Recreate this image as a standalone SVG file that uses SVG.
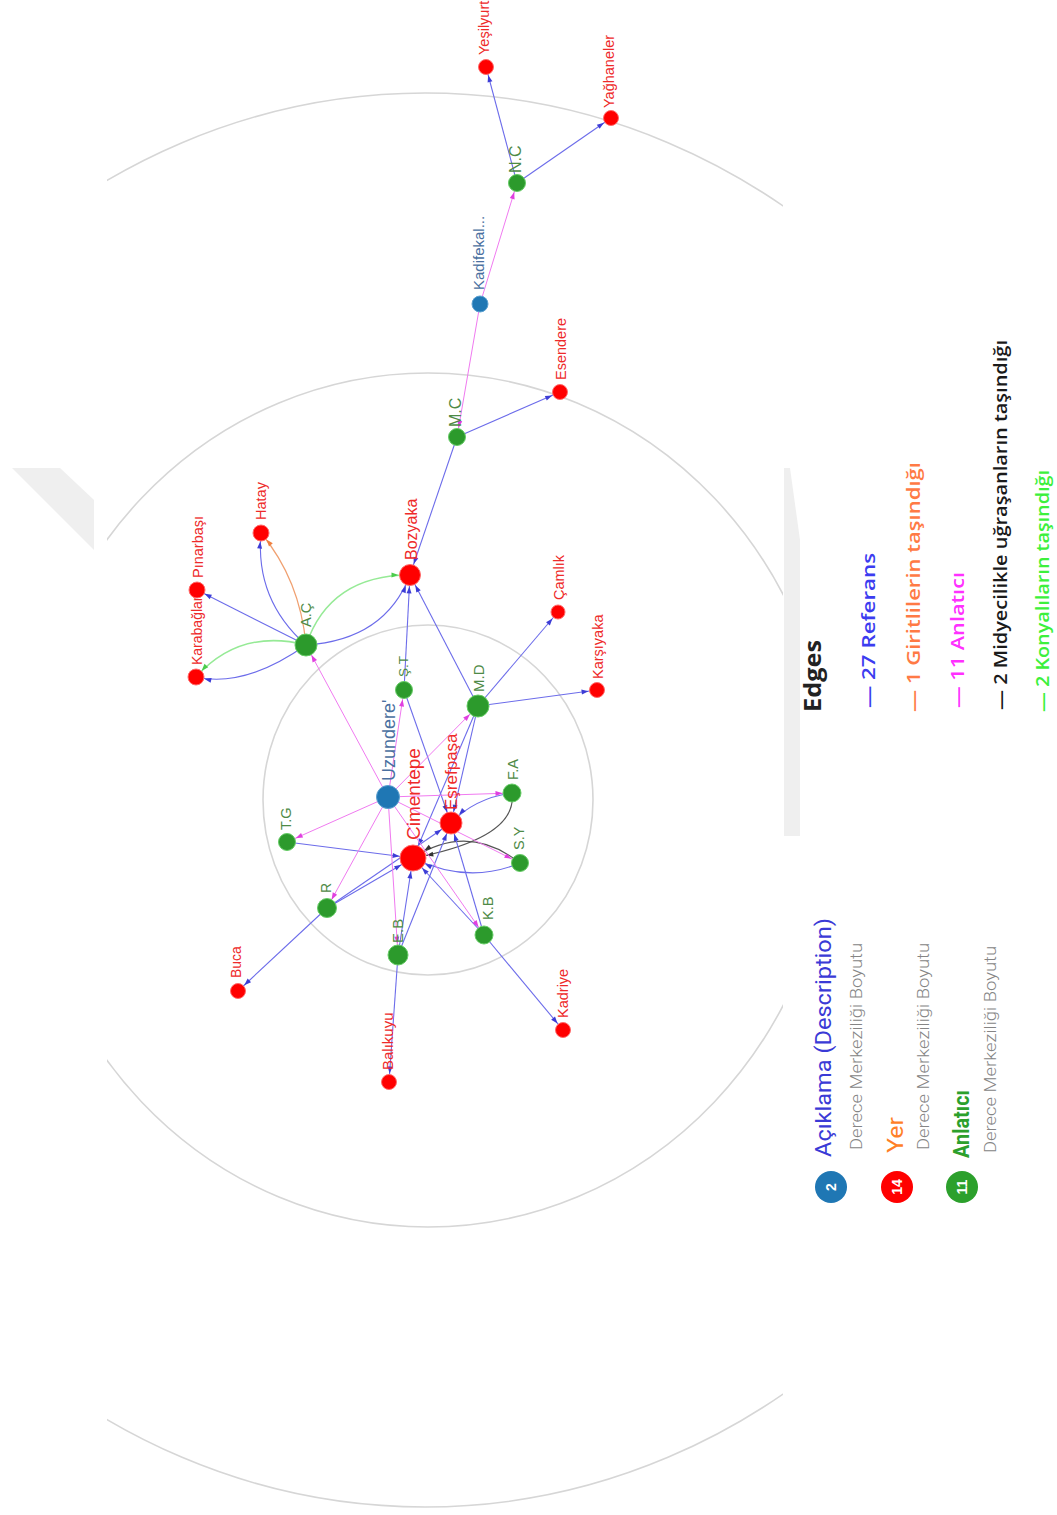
<svg xmlns="http://www.w3.org/2000/svg" width="1057" height="1515" viewBox="0 0 1057 1515">
<style>
.ref{stroke:#6c6cea;stroke-width:1.1;fill:none}
.anl{stroke:#f07af0;stroke-width:1;fill:none}
.mid{stroke:#555;stroke-width:1.2;fill:none}
.kon{stroke:#96ea96;stroke-width:1.5;fill:none}
.gir{stroke:#f0a070;stroke-width:1.2;fill:none}
.ring{fill:none;stroke:#d6d6d6;stroke-width:1.6}
.place circle{fill:#ff0000;stroke:#ff6a6a;stroke-width:1}
.narr circle{fill:#2c9a2c;stroke:#66cc66;stroke-width:1}
.desc circle{fill:#1f77b4;stroke:#5a9fd0;stroke-width:1}
text{font-family:"Liberation Sans",Arial,sans-serif}
.place text{fill:#ee2a2a}
.narr text{fill:#4e8a46}
.desc text{fill:#4a70a0}
.lg{font-family:"Open Sans","Liberation Sans",sans-serif;font-weight:600;font-size:18px}
.nl{font-family:Roboto,"Liberation Sans",sans-serif}
.sub{font-family:Roboto,"Liberation Sans",sans-serif;font-size:16px;fill:#858585;font-weight:300}
.num{font-family:"Liberation Sans",Arial,sans-serif;font-weight:bold;font-size:14px;fill:#fff}
</style>
<defs>
<clipPath id="clip"><rect x="107" y="0" width="676" height="1515"/></clipPath>
<marker id="b8" markerUnits="userSpaceOnUse" viewBox="0 0 7 5" markerWidth="7" markerHeight="5" refX="15.5" refY="2.5" orient="auto" overflow="visible"><path d="M0,0L7,2.5L0,5z" fill="#3d3dd6"/></marker>
<marker id="b11" markerUnits="userSpaceOnUse" viewBox="0 0 7 5" markerWidth="7" markerHeight="5" refX="18.5" refY="2.5" orient="auto" overflow="visible"><path d="M0,0L7,2.5L0,5z" fill="#3d3dd6"/></marker>
<marker id="b13" markerUnits="userSpaceOnUse" viewBox="0 0 7 5" markerWidth="7" markerHeight="5" refX="20.5" refY="2.5" orient="auto" overflow="visible"><path d="M0,0L7,2.5L0,5z" fill="#3d3dd6"/></marker>
<marker id="m9" markerUnits="userSpaceOnUse" viewBox="0 0 7 5" markerWidth="7" markerHeight="5" refX="16.5" refY="2.5" orient="auto" overflow="visible"><path d="M0,0L7,2.5L0,5z" fill="#e040e0"/></marker>
<marker id="m11" markerUnits="userSpaceOnUse" viewBox="0 0 7 5" markerWidth="7" markerHeight="5" refX="18.5" refY="2.5" orient="auto" overflow="visible"><path d="M0,0L7,2.5L0,5z" fill="#e040e0"/></marker>
<marker id="k13" markerUnits="userSpaceOnUse" viewBox="0 0 7 5" markerWidth="7" markerHeight="5" refX="20.5" refY="2.5" orient="auto" overflow="visible"><path d="M0,0L7,2.5L0,5z" fill="#333"/></marker>
<marker id="g11" markerUnits="userSpaceOnUse" viewBox="0 0 7 5" markerWidth="7" markerHeight="5" refX="18.5" refY="2.5" orient="auto" overflow="visible"><path d="M0,0L7,2.5L0,5z" fill="#4ccc4c"/></marker>
<marker id="g8" markerUnits="userSpaceOnUse" viewBox="0 0 7 5" markerWidth="7" markerHeight="5" refX="15.5" refY="2.5" orient="auto" overflow="visible"><path d="M0,0L7,2.5L0,5z" fill="#4ccc4c"/></marker>
<marker id="o8" markerUnits="userSpaceOnUse" viewBox="0 0 7 5" markerWidth="7" markerHeight="5" refX="15.5" refY="2.5" orient="auto" overflow="visible"><path d="M0,0L7,2.5L0,5z" fill="#f08040"/></marker>
</defs>
<rect width="1057" height="1515" fill="#fff"/>
<g id="watermark" fill="#efefef">
<polygon points="12,468 60,468 94,500 94,550"/>
<polygon points="784,468 790,468 800,540 800,836 784,836"/>
</g>
<g id="rings" clip-path="url(#clip)">
<ellipse class="ring" cx="425" cy="800" rx="660" ry="707"/>
<ellipse class="ring" cx="428" cy="800" rx="405" ry="427"/>
<ellipse class="ring" cx="428" cy="800" rx="165" ry="175"/>
</g>
<g id="connectors">
<path class="ref" marker-end="url(#b8)" d="M517,183L486,67"/>
<path class="ref" marker-end="url(#b8)" d="M517,183L611,118"/>
<path class="ref" marker-end="url(#b8)" d="M457,437L560,392"/>
<path class="ref" marker-end="url(#b11)" d="M457,437L410,575"/>
<path class="ref" marker-end="url(#b8)" d="M306,645Q255,600 261,533"/>
<path class="gir" marker-end="url(#o8)" d="M306,645Q300,580 261,533"/>
<path class="ref" marker-end="url(#b8)" d="M306,645L197,590"/>
<path class="ref" marker-end="url(#b8)" d="M306,645Q245,688 196,677"/>
<path class="kon" marker-end="url(#g8)" d="M306,645Q240,628 196,677"/>
<path class="ref" marker-end="url(#b11)" d="M306,645Q385,640 410,575"/>
<path class="kon" marker-end="url(#g11)" d="M306,645Q330,575 410,575"/>
<path class="ref" marker-end="url(#b11)" d="M404,690L410,575"/>
<path class="ref" marker-end="url(#b11)" d="M404,690L451,823"/>
<path class="ref" marker-end="url(#b11)" d="M478,706L410,575"/>
<path class="ref" marker-end="url(#b8)" d="M478,706L558,612"/>
<path class="ref" marker-end="url(#b8)" d="M478,706L597,690"/>
<path class="ref" marker-end="url(#b11)" d="M478,706L451,823"/>
<path class="ref" marker-end="url(#b13)" d="M478,706L413,858"/>
<path class="ref" marker-end="url(#b11)" d="M512,793Q475,798 451,823"/>
<path class="mid" marker-end="url(#k13)" d="M512,793Q518,838 413,858"/>
<path class="mid" marker-end="url(#k13)" d="M520,863Q468,822 413,858"/>
<path class="ref" marker-end="url(#b13)" d="M520,863Q468,885 413,858"/>
<path class="ref" marker-end="url(#b13)" d="M287,842L413,858"/>
<path class="ref" marker-end="url(#b13)" d="M327,908L413,858"/>
<path class="ref" marker-end="url(#b11)" d="M327,908L451,823"/>
<path class="ref" marker-end="url(#b8)" d="M327,908L238,991"/>
<path class="ref" marker-end="url(#b13)" d="M398,955L413,858"/>
<path class="ref" marker-end="url(#b11)" d="M398,955L451,823"/>
<path class="ref" marker-end="url(#b8)" d="M398,955L389,1082"/>
<path class="ref" marker-end="url(#b13)" d="M484,935L413,858"/>
<path class="ref" marker-end="url(#b11)" d="M484,935L451,823"/>
<path class="ref" marker-end="url(#b8)" d="M484,935L563,1030"/>
<path class="anl" marker-end="url(#m9)" d="M480,304L517,183"/>
<path class="anl" marker-end="url(#m9)" d="M480,304L457,437"/>
<path class="anl" marker-end="url(#m11)" d="M388,797L306,645"/>
<path class="anl" marker-end="url(#m9)" d="M388,797L404,690"/>
<path class="anl" marker-end="url(#m11)" d="M388,797L478,706"/>
<path class="anl" marker-end="url(#m9)" d="M388,797L512,793"/>
<path class="anl" marker-end="url(#m9)" d="M388,797L520,863"/>
<path class="anl" marker-end="url(#m9)" d="M388,797L484,935"/>
<path class="anl" marker-end="url(#m11)" d="M388,797L398,955"/>
<path class="anl" marker-end="url(#m9)" d="M388,797L327,908"/>
<path class="anl" marker-end="url(#m9)" d="M388,797L287,842"/>
</g>
<g id="n-uzundere" class="desc"><circle cx="388" cy="797" r="11.5"/><text transform="translate(395,781) rotate(-90)" font-size="18">Uzundere'</text></g>
<g id="n-kadifekale" class="desc"><circle cx="480" cy="304" r="8"/><text transform="translate(484,290) rotate(-90)" font-size="15">Kadifekal...</text></g>
<g id="n-cimentepe" class="place"><circle cx="413" cy="858" r="13"/><text transform="translate(420,840) rotate(-90)" font-size="19">Cimentepe</text></g>
<g id="n-esrefpasa" class="place"><circle cx="451" cy="823" r="11"/><text transform="translate(457,810) rotate(-90)" font-size="17">Eşrefpaşa</text></g>
<g id="n-bozyaka" class="place"><circle cx="410" cy="575" r="10.5"/><text transform="translate(417,560) rotate(-90)" font-size="16">Bozyaka</text></g>
<g id="n-hatay" class="place"><circle cx="261" cy="533" r="8"/><text transform="translate(266,520) rotate(-90)" font-size="14.5">Hatay</text></g>
<g id="n-karabaglar" class="place"><circle cx="196" cy="677" r="8"/><text transform="translate(202,665) rotate(-90)" font-size="14">Karabağlar</text></g>
<g id="n-pinarbasi" class="place"><circle cx="197" cy="590" r="8"/><text transform="translate(203,578) rotate(-90)" font-size="14.5">Pınarbaşı</text></g>
<g id="n-camlik" class="place"><circle cx="558" cy="612" r="7"/><text transform="translate(564,600) rotate(-90)" font-size="14.5">Çamlık</text></g>
<g id="n-karsiyaka" class="place"><circle cx="597" cy="690" r="7.5"/><text transform="translate(603,679) rotate(-90)" font-size="14.5">Karşıyaka</text></g>
<g id="n-esendere" class="place"><circle cx="560" cy="392" r="7.5"/><text transform="translate(566,380) rotate(-90)" font-size="14.5">Esendere</text></g>
<g id="n-yesilyurt" class="place"><circle cx="486" cy="67" r="7.5"/><text transform="translate(489,55) rotate(-90)" font-size="14.5">Yeşilyurt</text></g>
<g id="n-yaghaneler" class="place"><circle cx="611" cy="118" r="7.5"/><text transform="translate(614,108) rotate(-90)" font-size="14.5">Yağhaneler</text></g>
<g id="n-buca" class="place"><circle cx="238" cy="991" r="7.5"/><text transform="translate(241,978) rotate(-90)" font-size="14">Buca</text></g>
<g id="n-balikuyu" class="place"><circle cx="389" cy="1082" r="7.5"/><text transform="translate(393,1070) rotate(-90)" font-size="15">Balıkuyu</text></g>
<g id="n-kadriye" class="place"><circle cx="563" cy="1030" r="7.5"/><text transform="translate(568,1018) rotate(-90)" font-size="14.5">Kadriye</text></g>
<g id="n-ac" class="narr"><circle cx="306" cy="645" r="11"/><text transform="translate(311,627) rotate(-90)" font-size="14.5">A.Ç</text></g>
<g id="n-st" class="narr"><circle cx="404" cy="690" r="8.5"/><text transform="translate(408,677) rotate(-90)" font-size="13.5">Ş.T</text></g>
<g id="n-md" class="narr"><circle cx="478" cy="706" r="11"/><text transform="translate(484,692) rotate(-90)" font-size="15">M.D</text></g>
<g id="n-fa" class="narr"><circle cx="512" cy="793" r="9"/><text transform="translate(518,780) rotate(-90)" font-size="14.5">F.A</text></g>
<g id="n-sy" class="narr"><circle cx="520" cy="863" r="8.5"/><text transform="translate(524,850) rotate(-90)" font-size="14.5">S.Y</text></g>
<g id="n-kb" class="narr"><circle cx="484" cy="935" r="9"/><text transform="translate(493,920) rotate(-90)" font-size="14.5">K.B</text></g>
<g id="n-eb" class="narr"><circle cx="398" cy="955" r="10"/><text transform="translate(403,943) rotate(-90)" font-size="15">E.B</text></g>
<g id="n-r" class="narr"><circle cx="327" cy="908" r="9.5"/><text transform="translate(331,893) rotate(-90)" font-size="14">R</text></g>
<g id="n-tg" class="narr"><circle cx="287" cy="842" r="8.5"/><text transform="translate(291,830) rotate(-90)" font-size="14.5">T.G</text></g>
<g id="n-mc" class="narr"><circle cx="457" cy="437" r="8.5"/><text transform="translate(461,427) rotate(-90)" font-size="16">M.C</text></g>
<g id="n-nc" class="narr"><circle cx="517" cy="183" r="8.5"/><text transform="translate(521,173) rotate(-90)" font-size="16">N.C</text></g>
<g id="legend-edges">
<text transform="translate(821,712) rotate(-90)" class="lg" style="font-size:23px;font-weight:700" fill="#222" textLength="72" lengthAdjust="spacingAndGlyphs">Edges</text>
<text transform="translate(875,708) rotate(-90)" class="lg" fill="#3c3cf0" textLength="155" lengthAdjust="spacingAndGlyphs">— 27 Referans</text>
<text transform="translate(920,712) rotate(-90)" class="lg" fill="#ff7a45" textLength="250" lengthAdjust="spacingAndGlyphs">— 1 Giritlilerin taşındığı</text>
<text transform="translate(964,708) rotate(-90)" class="lg" fill="#ff30ff" textLength="136" lengthAdjust="spacingAndGlyphs">— 11 Anlatıcı</text>
<text transform="translate(1007,710) rotate(-90)" class="lg" fill="#1a1a1a" textLength="370" lengthAdjust="spacingAndGlyphs">— 2 Midyecilikle uğraşanların taşındığı</text>
<text transform="translate(1049,712) rotate(-90)" class="lg" fill="#3cf03c" textLength="242" lengthAdjust="spacingAndGlyphs">— 2 Konyalıların taşındığı</text>
</g>
<g id="legend-nodes">
<circle cx="831" cy="1187" r="16" fill="#1f77b4"/>
<text class="num" transform="translate(831,1187) rotate(-90)" text-anchor="middle" dy="5">2</text>
<text class="nl" transform="translate(831,1157) rotate(-90)" font-size="22" fill="#3a3ad6" textLength="239" lengthAdjust="spacingAndGlyphs">Açıklama (Description)</text>
<text class="sub" transform="translate(862,1150) rotate(-90)" textLength="207" lengthAdjust="spacingAndGlyphs">Derece Merkeziliği Boyutu</text>
<circle cx="897" cy="1187" r="16" fill="#ff0000"/>
<text class="num" transform="translate(897,1187) rotate(-90)" text-anchor="middle" dy="5">14</text>
<text class="nl" transform="translate(903,1153) rotate(-90)" font-size="22" fill="#ff7f27" textLength="36" lengthAdjust="spacingAndGlyphs">Yer</text>
<text class="sub" transform="translate(929,1150) rotate(-90)" textLength="207" lengthAdjust="spacingAndGlyphs">Derece Merkeziliği Boyutu</text>
<circle cx="962" cy="1187" r="16" fill="#2ca02c"/>
<text class="num" transform="translate(962,1187) rotate(-90)" text-anchor="middle" dy="5">11</text>
<text class="nl" transform="translate(969,1158) rotate(-90)" font-size="22" font-weight="bold" fill="#2ca02c" textLength="68" lengthAdjust="spacingAndGlyphs">Anlatıcı</text>
<text class="sub" transform="translate(996,1153) rotate(-90)" textLength="207" lengthAdjust="spacingAndGlyphs">Derece Merkeziliği Boyutu</text>
</g>
</svg>
